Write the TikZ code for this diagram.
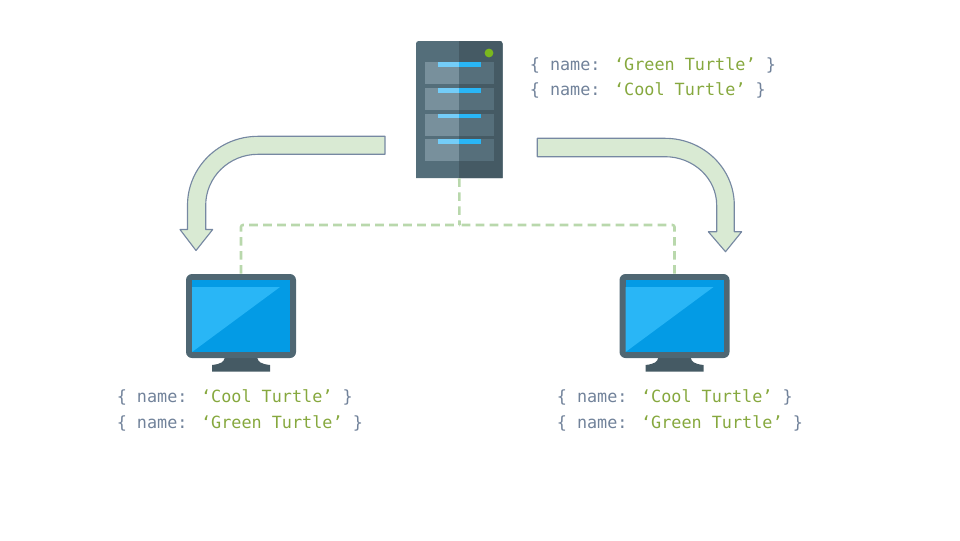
\documentclass[tikz,border=0pt]{standalone}
\usepackage{fontspec}
\newfontfamily\codefont{DejaVu Sans Mono}
\definecolor{codegrey}{HTML}{71829A}
\definecolor{codegreen}{HTML}{86A83E}
\definecolor{arrowfill}{HTML}{D9EAD3}
\definecolor{arrowline}{HTML}{7688A2}
\definecolor{linkgreen}{HTML}{B9D8AC}
\definecolor{caseleft}{HTML}{546E7A}
\definecolor{caseright}{HTML}{455A64}
\definecolor{monitorcase}{HTML}{4F6773}
\definecolor{drawerleft}{HTML}{78909C}
\definecolor{drawerright}{HTML}{566F7B}
\definecolor{barleft}{HTML}{74CDF8}
\definecolor{barright}{HTML}{29B6F6}
\definecolor{screendark}{HTML}{039BE5}
\definecolor{ledgreen}{HTML}{7AB81E}
\tikzset{
	bendarrow/.style={fill=arrowfill, draw=arrowline, line width=0.85pt, line join=round},
	linkline/.style={draw=linkgreen, line width=1.9pt, dash pattern=on 6.5pt off 4pt, rounded corners=1.5pt},
	docblock/.style={anchor=west, inner sep=0pt, align=left, text=codegrey, font=\codefont\fontsize{12.6}{19}\selectfont},
	serverbox/.style={minimum width=64.9pt, minimum height=102.8pt, inner sep=0pt},
	monitorbox/.style={fill=monitorcase, rounded corners=4.5pt, minimum width=82.5pt, minimum height=63pt, inner sep=0pt}
}
\newcommand{\turtle}[1]{\{ name: \textcolor{codegreen}{‘#1’} \}}
\begin{document}
\begin{tikzpicture}[x=0.75pt,y=-0.75pt]
	\useasboundingbox (0,0) rectangle (960,540);
	% server
	\node[serverbox] (server) at (459.25,109.5) {};
	\fill[caseleft] (416,178) [rounded corners=2pt] -- (416,41) -- (502.5,41) [sharp corners] -- (502.5,178) -- cycle;
	\fill[caseright] (459,178) -- (459,41) [rounded corners=2pt] -- (502.5,41) [sharp corners] -- (502.5,178) -- cycle;
	\foreach \y in {62,88,113.5,139} {
		\fill[drawerleft] (424.5,\y) rectangle (459,\y+22);
		\fill[drawerright] (459,\y) rectangle (493.5,\y+22);
		\fill[barleft] (437.5,\y) rectangle (459,\y+4.5);
		\fill[barright] (459,\y) rectangle (481,\y+4.5);
	}
	\fill[ledgreen] (489,53) circle (3.3pt);
	% monitors
	\foreach \mon/\mx in {monitorL/241,monitorR/674.5} {
		\fill[caseright] (\mx-16,357) .. controls (\mx-17,362) and (\mx-20,364) .. (\mx-29,365) -- (\mx-29,371.5) -- (\mx+29,371.5) -- (\mx+29,365) .. controls (\mx+20,364) and (\mx+17,362) .. (\mx+16,357) -- cycle;
		\node[monitorbox] (\mon) at (\mx,316) {};
		\fill[screendark] (\mx-49,280) rectangle (\mx+49,352);
		\fill[barright] (\mx-49,287) -- (\mx+39,287) -- (\mx-49,352) -- cycle;
	}
	% links
	\coordinate (junction) at (459.5,225);
	\draw[linkline] (server.south) -- (junction);
	\draw[linkline] (monitorL.north) |- (junction);
	\draw[linkline] (monitorR.north) |- (junction);
	% big arrows
	\draw[bendarrow] (385,136.3) -- (258,136.3) arc (270:180:70.5 and 69) -- (187.5,229.5) -- (180,229.5) -- (196,250.5) -- (212.7,229.5) -- (205.7,229.5) -- (205.7,205.3) arc (180:270:52.2 and 51) -- (385,154.3) -- cycle;
	\draw[bendarrow] (537.3,138.3) -- (665,138.3) arc (270:360:69.3 and 67) -- (734.3,231.7) -- (741.7,231.7) -- (725.5,251.7) -- (708.3,231.7) -- (716.7,231.7) -- (716.7,205.3) arc (360:270:51.7 and 48.6) -- (537.3,156.7) -- cycle;
	% documents
	\node[docblock] (serverdocs) at (529.5,78) {\turtle{Green Turtle}\\\turtle{Cool Turtle}};
	\node[docblock] (leftdocs) at (116.5,410.5) {\turtle{Cool Turtle}\\\turtle{Green Turtle}};
	\node[docblock] (rightdocs) at (556.5,410.5) {\turtle{Cool Turtle}\\\turtle{Green Turtle}};
\end{tikzpicture}
\end{document}
